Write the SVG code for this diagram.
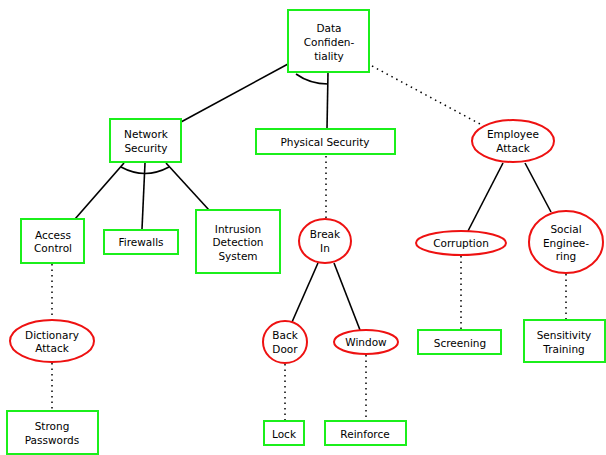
<svg xmlns="http://www.w3.org/2000/svg" width="606" height="455" viewBox="0 0 606 455">
<style>
.b{fill:#fff;stroke:#1bef1b;stroke-width:2}
.e{fill:#fff;stroke:#ee1111;stroke-width:2}
.s{fill:none;stroke:#000;stroke-width:1.6}
.d{fill:none;stroke:#000;stroke-width:1.5;stroke-dasharray:1.5 4}
text{font-family:"DejaVu Sans",sans-serif;font-size:10.5px;text-anchor:middle;fill:#000}
</style>
<rect width="606" height="455" fill="#fff"/>
<g id="edges">
<path class="s" d="M288,64 L181,122"/>
<path class="s" d="M328,72 L327,129"/>
<path class="s" d="M296,74 Q310,84 328,84"/>
<path class="d" d="M372,66 L480,124"/>
<path class="s" d="M124,163 L75,219"/>
<path class="s" d="M145,163 L142,229"/>
<path class="s" d="M166,163 L209,210"/>
<path class="s" d="M121,167 Q145,180 169,167"/>
<path class="d" d="M326,156 L326,218"/>
<path class="s" d="M503,163 L468,231"/>
<path class="s" d="M525,163 L551,212"/>
<path class="d" d="M52,264 L52,319"/>
<path class="d" d="M52,363 L52,410"/>
<path class="s" d="M318,263 L292,322"/>
<path class="s" d="M334,263 L360,330"/>
<path class="d" d="M461,256 L461,329"/>
<path class="d" d="M566,274 L566,319"/>
<path class="d" d="M285,364 L285,420"/>
<path class="d" d="M366,355 L366,420"/>
</g>
<g id="n_dc"><rect class="b" x="288" y="10" width="81" height="62"/><text x="329" y="32">Data</text><text x="329" y="46">Confiden-</text><text x="329" y="60">tiality</text></g>
<g id="n_ns"><rect class="b" x="110" y="119" width="71" height="43"/><text x="146" y="138">Network</text><text x="146" y="152">Security</text></g>
<g id="n_ps"><rect class="b" x="256" y="129" width="139" height="25"/><text x="325" y="146">Physical Security</text></g>
<g id="n_ea"><ellipse class="e" cx="513" cy="141" rx="41" ry="21"/><text x="513" y="138">Employee</text><text x="513" y="152">Attack</text></g>
<g id="n_ac"><rect class="b" x="21" y="219" width="63" height="44"/><text x="53" y="239">Access</text><text x="53" y="252">Control</text></g>
<g id="n_fw"><rect class="b" x="104" y="230" width="74" height="24"/><text x="141" y="246">Firewalls</text></g>
<g id="n_ids"><rect class="b" x="196" y="210" width="84" height="63"/><text x="238" y="233">Intrusion</text><text x="238" y="246">Detection</text><text x="238" y="260">System</text></g>
<g id="n_bi"><ellipse class="e" cx="325" cy="241" rx="26" ry="22"/><text x="325" y="238">Break</text><text x="325" y="252">In</text></g>
<g id="n_co"><ellipse class="e" cx="461" cy="243" rx="45" ry="12"/><text x="461" y="247">Corruption</text></g>
<g id="n_se"><ellipse class="e" cx="566" cy="242" rx="37" ry="31"/><text x="566" y="233">Social</text><text x="566" y="247">Enginee-</text><text x="566" y="260">ring</text></g>
<g id="n_da"><ellipse class="e" cx="52" cy="341" rx="42" ry="21"/><text x="52" y="339">Dictionary</text><text x="52" y="352">Attack</text></g>
<g id="n_bd"><ellipse class="e" cx="285" cy="342" rx="22" ry="21"/><text x="285" y="339">Back</text><text x="285" y="353">Door</text></g>
<g id="n_wi"><ellipse class="e" cx="366" cy="342" rx="32" ry="12"/><text x="366" y="346">Window</text></g>
<g id="n_sc"><rect class="b" x="418" y="330" width="83" height="24"/><text x="460" y="347">Screening</text></g>
<g id="n_st"><rect class="b" x="524" y="320" width="81" height="42"/><text x="564" y="339">Sensitivity</text><text x="564" y="353">Training</text></g>
<g id="n_sp"><rect class="b" x="7" y="411" width="91" height="43"/><text x="52" y="430">Strong</text><text x="52" y="444">Passwords</text></g>
<g id="n_lo"><rect class="b" x="264" y="421" width="40" height="24"/><text x="284" y="438">Lock</text></g>
<g id="n_re"><rect class="b" x="325" y="421" width="81" height="24"/><text x="365" y="438">Reinforce</text></g>
</svg>
